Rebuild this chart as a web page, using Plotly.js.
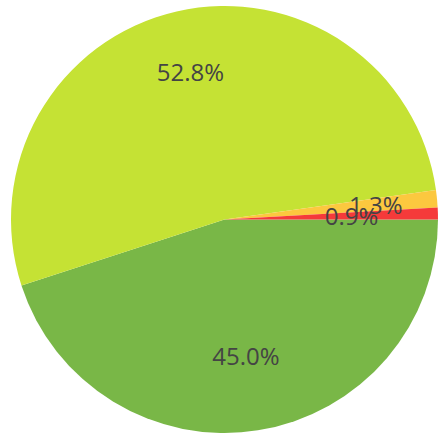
<!DOCTYPE html>
<html>
<head>
<meta charset="utf-8">
<script src="https://cdn.plot.ly/plotly-3.0.1.min.js"></script>
<style>html,body{margin:0;padding:0;background:#fff;}#chart{width:438px;height:435px;}</style>
</head>
<body>
<div id="chart"></div>
<script>
// Data (slices listed clockwise starting at 3 o'clock)
const categories = ["Green", "Yellow-green", "Orange", "Red"];
const values = [45.0, 52.8, 1.3, 0.9];
const colors = ["#79b747", "#c5e234", "#fcc83f", "#f53a3a"];

const clear = categories.map(() => "rgba(0,0,0,0)");
const textFont = {family: "Open Sans, sans-serif", size: 24, color: "#444444"};

function base(extra) {
  return Object.assign({
    type: "pie",
    labels: categories,
    values: values,
    sort: false,
    direction: "clockwise",
    rotation: 90,
    showlegend: false
  }, extra);
}

// One label per overlay trace so each label can sit at its own radius
function labelTrace(idx, hole, frac) {
  const lo = (1 - frac) / 2, hi = (1 + frac) / 2;
  return base({
    hole: hole,
    domain: {x: [lo, hi], y: [lo, hi]},
    marker: {colors: clear, line: {width: 0}},
    texttemplate: "%{percent:.1%}",
    textposition: categories.map((c, i) => i === idx ? "inside" : "none"),
    insidetextorientation: "horizontal",
    textfont: textFont,
    hoverinfo: "skip"
  });
}

const traces = [
  base({
    marker: {colors: colors, line: {width: 0}},
    textinfo: "none",
    hoverinfo: "label+percent"
  }),
  labelTrace(0, 0.288, 1),
  labelTrace(1, 0.425, 1),
  labelTrace(2, 0, 0.7415),
  labelTrace(3, 0, 0.612)
];

Plotly.newPlot("chart", traces, {
  width: 438,
  height: 435,
  margin: {l: 11, r: 0, t: 6, b: 2},
  showlegend: false,
  paper_bgcolor: "#ffffff",
  uniformtext: {mode: "show", minsize: 24}
}, {displayModeBar: false});
</script>
</body>
</html>
